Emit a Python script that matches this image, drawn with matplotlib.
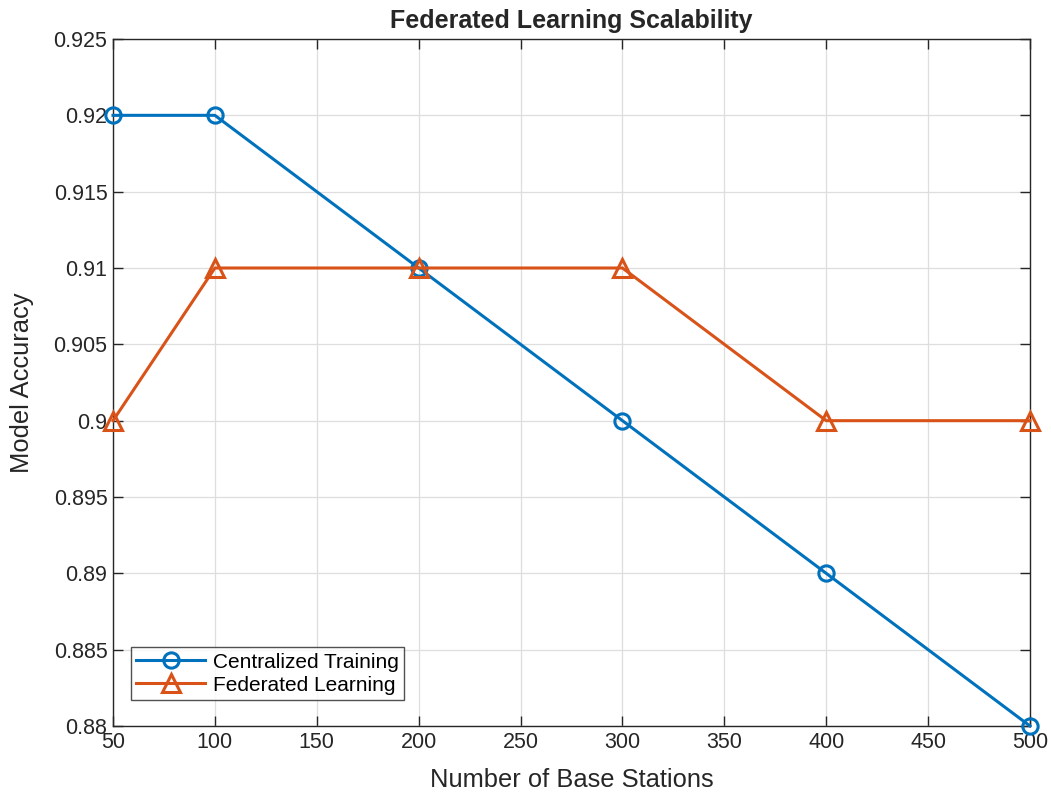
import matplotlib
matplotlib.use("Agg")
import matplotlib.pyplot as plt
from matplotlib.ticker import FixedLocator, FuncFormatter

plt.rcParams['font.family'] = ['Liberation Sans', 'DejaVu Sans']

base_stations = [50, 100, 200, 300, 400, 500]
centralized = [0.92, 0.92, 0.91, 0.90, 0.89, 0.88]
federated = [0.90, 0.91, 0.91, 0.91, 0.90, 0.90]
series_names = ["Centralized Training", "Federated Learning"]
x_ticks = [50, 100, 150, 200, 250, 300, 350, 400, 450, 500]
y_ticks = [0.88, 0.885, 0.89, 0.895, 0.90, 0.905, 0.91, 0.915, 0.92, 0.925]

fig = plt.figure(figsize=(10.51, 7.94), dpi=100)
ax = fig.add_axes([113/1051, 1 - 726/794, (1030-113)/1051, (726-39)/794])

blue = '#0072BD'
orange = '#D95319'
ax.plot(base_stations, centralized, '-o', color=blue, lw=2.2, ms=11,
        mfc='none', mew=2.2, label=series_names[0], zorder=3, clip_on=False)
ax.plot(base_stations, federated, '-^', color=orange, lw=2.2, ms=12.5,
        mfc='none', mew=2.2, label=series_names[1], zorder=3, clip_on=False)

ax.set_xlim(50, 500)
ax.set_ylim(0.88, 0.925)
ax.xaxis.set_major_locator(FixedLocator(x_ticks))
ax.yaxis.set_major_locator(FixedLocator(y_ticks))
ax.yaxis.set_major_formatter(FuncFormatter(lambda v, p: ('%.3f' % v).rstrip('0').rstrip('.')))

ax.grid(True, color='#dedede', lw=0.9)
ax.set_axisbelow(True)
ax.tick_params(direction='in', which='both', top=True, right=True,
               length=7, width=1.0, color='#262626', labelsize=15.5,
               labelcolor='#262626', pad=4)
for s in ax.spines.values():
    s.set_color('#262626')
    s.set_linewidth(1.0)

ax.set_xlabel("Number of Base Stations", fontsize=18.4, color='#262626', labelpad=11)
ax.set_ylabel("Model Accuracy", fontsize=18.4, color='#262626', labelpad=14)
ax.set_title("Federated Learning Scalability", fontsize=18, fontweight='bold',
             color='#262626', pad=8)

leg = ax.legend(loc='lower left', bbox_to_anchor=(0.0196, 0.038), fontsize=15,
                frameon=True, fancybox=False, edgecolor='#262626',
                handlelength=3.3, borderpad=0.25, labelspacing=0.2,
                handletextpad=0.4, borderaxespad=0)
leg.get_frame().set_linewidth(1.0)

fig.savefig("out.png", dpi=100)
